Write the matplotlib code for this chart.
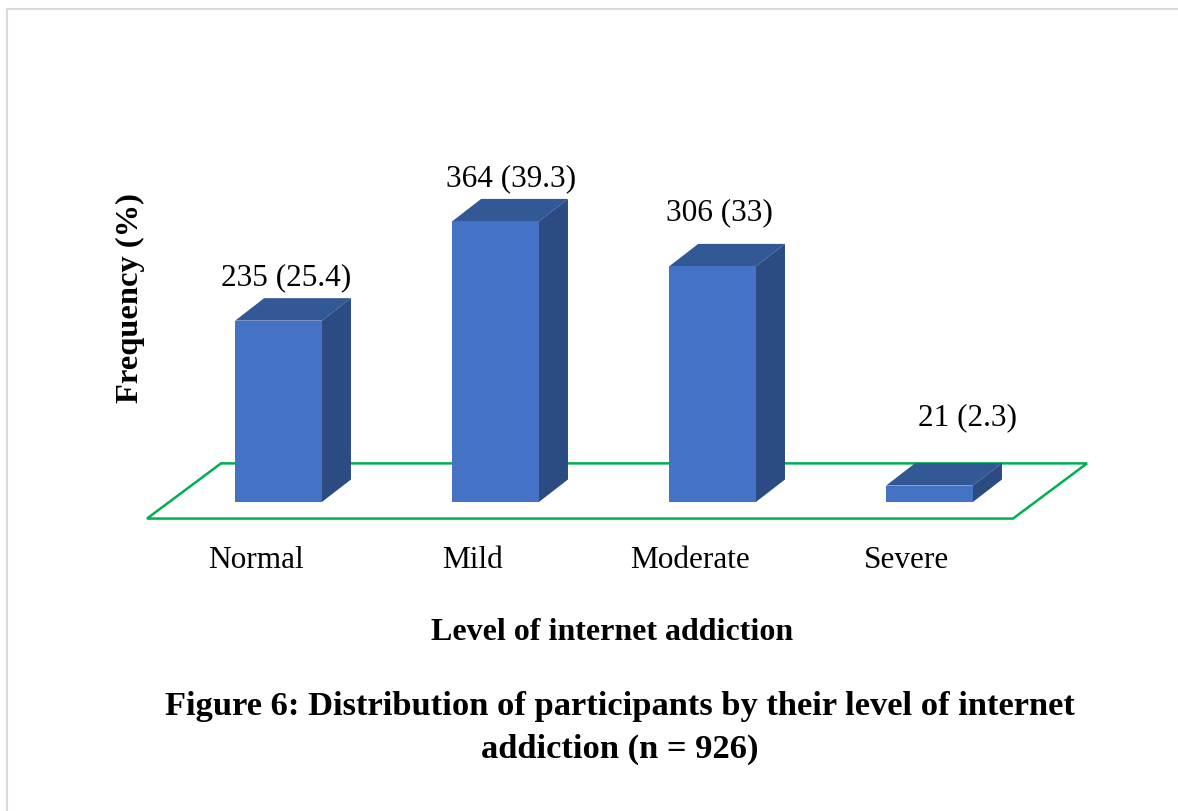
import matplotlib.pyplot as plt
from matplotlib.patches import Polygon

plt.rcParams['font.family'] = ['Liberation Serif', 'DejaVu Serif']

# Data
levels = ['Normal', 'Mild', 'Moderate', 'Severe']
counts = [235, 364, 306, 21]
percents = [25.4, 39.3, 33, 2.3]

# Styling / layout constants
front_color = '#4472C4'
top_color = '#335896'
side_color = '#2B4B82'
floor_color = '#00B050'
bar_width = 0.40
depth_x = 0.134   # in category units
depth_y = 3.15    # in percent units
# label nudges (pixels): (right, up) extra over the back top edge
label_nudge = [(-7, 6), (1, 6), (-8, 17), (23, 31)]

W, H = 1178, 811
fig = plt.figure(figsize=(W / 100, H / 100), dpi=100)

# Axes placed so that one category = 217 px and 1 % = 7.14 px
left_px, right_px, top_px, bottom_px = 100, 1150, 120, 540
ax = fig.add_axes([left_px / W, 1 - bottom_px / H,
                   (right_px - left_px) / W, (bottom_px - top_px) / H])
ax.set_xlim((left_px - 278.5) / 217, (right_px - 278.5) / 217)
ax.set_ylim((502 - bottom_px) / 7.14, (502 - top_px) / 7.14)
ax.axis('off')

x = list(range(len(levels)))

# Floor (parallelogram) under the bars
floor = Polygon([(-0.606, -2.32), (3.385, -2.32), (3.726, 5.41), (-0.265, 5.41)],
                closed=True, fill=False, edgecolor=floor_color, linewidth=1.8,
                zorder=1)
ax.add_patch(floor)

# Front faces
ax.bar(x, percents, width=bar_width, color=front_color, zorder=3)

for xi, p in zip(x, percents):
    x0 = xi - bar_width / 2
    x1 = xi + bar_width / 2
    top = Polygon([(x0, p), (x1, p), (x1 + depth_x, p + depth_y), (x0 + depth_x, p + depth_y)],
                  closed=True, facecolor=top_color, edgecolor='none', zorder=2)
    side = Polygon([(x1, 0), (x1 + depth_x, depth_y), (x1 + depth_x, p + depth_y), (x1, p)],
                   closed=True, facecolor=side_color, edgecolor='none', zorder=2)
    ax.add_patch(top)
    ax.add_patch(side)

# Value labels
for xi, n, p, (nx, ny) in zip(x, counts, percents, label_nudge):
    ax.annotate(f'{n} ({p:g})', xy=(xi + depth_x / 2, p + depth_y),
                xytext=(nx * 0.72, ny * 0.72), textcoords='offset points',
                ha='center', va='bottom', fontsize=22.5, color='black')

# Category labels along the front edge of the floor
for xi, name in zip(x, levels):
    ax.text(xi - 0.104, (502 - 560) / 7.14, name, ha='center', va='center',
            fontsize=22.5, clip_on=False)

# Axis titles
fig.text(130 / W, 1 - 298 / H, 'Frequency (%)', rotation=90, ha='center', va='center',
         fontsize=23.4, fontweight='bold')
fig.text(612 / W, 1 - 632 / H, 'Level of internet addiction', ha='center', va='center',
         fontsize=23, fontweight='bold')

# Caption
fig.text(620 / W, 1 - 707 / H, 'Figure 6: Distribution of participants by their level of internet',
         ha='center', va='center', fontsize=24.8, fontweight='bold')
fig.text(620 / W, 1 - 749 / H, 'addiction (n = 926)',
         ha='center', va='center', fontsize=24.8, fontweight='bold')

# Light frame along the top and left edges
frame_color = '#D9D9D9'
fig.add_artist(plt.Line2D([7 / W, 1], [1 - 8.5 / H, 1 - 8.5 / H], color=frame_color, linewidth=1.5))
fig.add_artist(plt.Line2D([7 / W, 7 / W], [0, 1 - 8.5 / H], color=frame_color, linewidth=1.5))

fig.savefig('out.png', dpi=100)
